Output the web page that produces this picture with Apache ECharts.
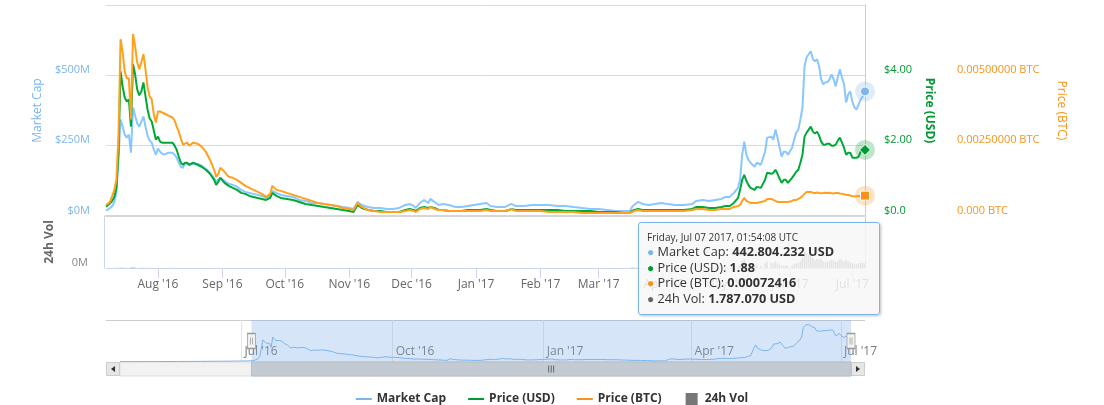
<!DOCTYPE html>
<html><head><meta charset="utf-8">
<script src="https://cdn.jsdelivr.net/npm/echarts@6/dist/echarts.min.js"></script>
<style>html,body{margin:0;padding:0;background:#fff}#c{width:1104px;height:405px}</style>
</head><body><div id="c"></div>
<script>
// ---------- DATA ----------
const dates = [
 '2016-07-07','2016-07-08','2016-07-09','2016-07-10','2016-07-11','2016-07-12','2016-07-13','2016-07-14','2016-07-15','2016-07-16','2016-07-17','2016-07-18','2016-07-19','2016-07-20','2016-07-21','2016-07-22','2016-07-23','2016-07-24','2016-07-25','2016-07-26','2016-07-27','2016-07-28','2016-07-29','2016-07-30','2016-07-31',
 '2016-08-01','2016-08-02','2016-08-03','2016-08-04','2016-08-05','2016-08-06','2016-08-07','2016-08-08','2016-08-09','2016-08-10','2016-08-11','2016-08-12','2016-08-13','2016-08-14','2016-08-15','2016-08-16','2016-08-18','2016-08-20','2016-08-22','2016-08-24','2016-08-26','2016-08-28','2016-08-29','2016-08-30','2016-08-31',
 '2016-09-02','2016-09-04','2016-09-06','2016-09-08','2016-09-10','2016-09-12','2016-09-14','2016-09-16','2016-09-18','2016-09-20','2016-09-22','2016-09-24','2016-09-25','2016-09-27','2016-09-29',
 '2016-10-02','2016-10-05','2016-10-08','2016-10-11','2016-10-14','2016-10-17','2016-10-20','2016-10-23','2016-10-26','2016-10-29',
 '2016-11-01','2016-11-03','2016-11-05','2016-11-07','2016-11-10','2016-11-13','2016-11-16','2016-11-19','2016-11-22','2016-11-25','2016-11-28','2016-11-30',
 '2016-12-02','2016-12-03','2016-12-05','2016-12-07','2016-12-09','2016-12-10','2016-12-12','2016-12-14','2016-12-16','2016-12-19','2016-12-22','2016-12-25','2016-12-28','2016-12-31',
 '2017-01-03','2017-01-06','2017-01-08','2017-01-11','2017-01-15','2017-01-17','2017-01-18','2017-01-20','2017-01-24','2017-01-28','2017-02-01','2017-02-05','2017-02-09','2017-02-13','2017-02-17','2017-02-21','2017-02-25',
 '2017-03-01','2017-03-05','2017-03-09','2017-03-13','2017-03-16','2017-03-17','2017-03-18','2017-03-20','2017-03-22','2017-03-25','2017-03-28','2017-03-31','2017-04-03','2017-04-07','2017-04-11','2017-04-15','2017-04-17','2017-04-20','2017-04-23','2017-04-26','2017-04-29',
 '2017-05-01','2017-05-03','2017-05-05','2017-05-07','2017-05-08','2017-05-09','2017-05-10','2017-05-11','2017-05-12','2017-05-13','2017-05-15','2017-05-16','2017-05-18','2017-05-20','2017-05-21','2017-05-23','2017-05-24','2017-05-25','2017-05-26','2017-05-27','2017-05-28','2017-05-29','2017-05-30','2017-05-31',
 '2017-06-02','2017-06-03','2017-06-04','2017-06-05','2017-06-06','2017-06-07','2017-06-08','2017-06-09','2017-06-10','2017-06-11','2017-06-12','2017-06-13','2017-06-14','2017-06-15','2017-06-16','2017-06-17','2017-06-18','2017-06-19','2017-06-20','2017-06-21','2017-06-22','2017-06-23','2017-06-24','2017-06-25','2017-06-26','2017-06-27','2017-06-28','2017-06-29','2017-06-30','2017-07-01','2017-07-02','2017-07-03','2017-07-04','2017-07-05','2017-07-06','2017-07-07T01:54:08'
];
// Market cap, millions of USD
const marketCap = [
 18.9,23.2,28.6,35.7,50.0,82.1,200.0,342.9,317.9,289.3,278.6,289.3,225.0,385.7,357.1,328.6,317.9,335.7,353.6,317.9,285.7,267.9,260.7,235.7,217.9,
 239.3,228.6,221.4,217.9,221.4,225.0,225.0,225.0,217.9,207.1,189.3,175.0,171.4,185.7,185.7,182.1,185.7,185.7,178.6,167.9,153.6,135.7,121.4,128.6,135.7,
 125.0,114.3,110.7,103.6,92.9,85.7,82.1,78.6,75.0,71.4,64.3,71.4,89.3,82.1,75.0,
 71.4,67.9,57.1,53.6,46.4,46.4,42.9,39.3,35.7,32.1,
 28.6,25.0,50.0,39.3,32.1,28.6,28.6,25.0,25.0,28.6,39.3,42.9,
 35.7,28.6,46.4,57.1,46.4,60.7,50.0,39.3,42.9,39.3,32.1,32.1,35.7,39.3,
 42.9,46.4,35.7,32.1,32.1,39.3,42.9,35.7,35.7,39.3,39.3,39.3,35.7,35.7,32.1,28.6,25.0,
 25.0,21.4,17.9,17.9,17.9,32.1,39.3,50.0,42.9,39.3,42.9,46.4,42.9,39.3,39.3,42.9,53.6,57.1,53.6,57.1,60.7,
 67.9,67.9,82.1,100.0,128.6,217.9,264.3,217.9,200.0,189.3,175.0,189.3,182.1,228.6,278.6,282.1,271.4,307.1,278.6,242.9,210.7,228.6,228.6,217.9,
 242.9,271.4,296.4,307.1,342.9,385.7,532.1,564.3,575.0,585.7,557.1,550.0,557.1,532.1,485.7,467.9,475.0,475.0,485.7,503.6,485.7,460.7,492.9,521.4,492.9,467.9,403.6,432.1,442.9,407.1,385.7,378.6,396.4,414.3,425.0,442.804232
];
// Price in USD
const priceUsd = [
 0.266,0.314,0.371,0.429,0.543,0.800,1.800,4.114,3.686,3.371,3.257,3.314,2.543,4.314,4.029,3.600,3.429,3.543,3.800,3.400,3.029,2.771,2.686,2.429,2.171,
 2.257,2.114,2.086,2.086,2.086,2.086,2.086,2.086,2.000,1.886,1.686,1.514,1.457,1.514,1.514,1.457,1.514,1.457,1.400,1.314,1.200,1.029,0.886,0.971,1.086,
 0.943,0.857,0.800,0.743,0.657,0.629,0.571,0.543,0.514,0.486,0.457,0.514,0.657,0.571,0.514,
 0.486,0.457,0.400,0.343,0.314,0.286,0.257,0.229,0.200,0.171,
 0.143,0.114,0.314,0.229,0.171,0.143,0.143,0.114,0.114,0.114,0.171,0.200,
 0.171,0.143,0.229,0.257,0.229,0.257,0.229,0.171,0.171,0.143,0.143,0.143,0.171,0.171,
 0.171,0.200,0.171,0.143,0.143,0.171,0.200,0.171,0.171,0.171,0.171,0.171,0.171,0.143,0.143,0.143,0.143,
 0.114,0.114,0.114,0.086,0.086,0.143,0.171,0.200,0.171,0.171,0.171,0.171,0.171,0.171,0.171,0.200,0.257,0.257,0.229,0.229,0.257,
 0.286,0.286,0.371,0.514,0.743,1.029,1.171,1.000,0.886,0.800,0.743,0.829,0.800,1.029,1.229,1.200,1.229,1.314,1.200,1.057,0.943,1.029,1.029,0.943,
 1.086,1.171,1.257,1.314,1.514,1.743,2.257,2.371,2.457,2.543,2.400,2.343,2.400,2.286,2.114,2.029,2.029,2.057,2.057,2.000,2.000,2.029,2.143,2.229,2.086,1.943,1.743,1.800,1.800,1.657,1.657,1.657,1.686,1.829,1.857,1.88
];
// Price in BTC
const priceBtc = [
 0.000393,0.000446,0.000518,0.000714,0.000929,0.001286,0.002821,0.006286,0.005821,0.005143,0.004893,0.004893,0.003429,0.006464,0.006036,0.005464,0.005214,0.005464,0.005750,0.005214,0.004571,0.004250,0.004143,0.003607,0.003321,
 0.003714,0.003714,0.003679,0.003643,0.003607,0.003571,0.003536,0.003500,0.003393,0.003179,0.003000,0.002750,0.002536,0.002571,0.002607,0.002500,0.002607,0.002571,0.002464,0.002286,0.002000,0.001643,0.001393,0.001500,0.001714,
 0.001571,0.001393,0.001357,0.001286,0.001179,0.001071,0.001000,0.000929,0.000857,0.000786,0.000679,0.000786,0.001071,0.000929,0.000893,
 0.000821,0.000750,0.000679,0.000607,0.000536,0.000464,0.000429,0.000393,0.000357,0.000286,
 0.000250,0.000214,0.000464,0.000321,0.000214,0.000179,0.000143,0.000143,0.000143,0.000143,0.000179,0.000214,
 0.000179,0.000143,0.000250,0.000286,0.000250,0.000321,0.000250,0.000214,0.000214,0.000179,0.000179,0.000179,0.000179,0.000179,
 0.000179,0.000214,0.000179,0.000179,0.000179,0.000214,0.000250,0.000179,0.000179,0.000179,0.000179,0.000143,0.000143,0.000143,0.000143,0.000107,0.000107,
 0.000107,0.000107,0.000107,0.000107,0.000107,0.000143,0.000179,0.000214,0.000179,0.000179,0.000179,0.000179,0.000179,0.000179,0.000179,0.000214,0.000250,0.000250,0.000214,0.000214,0.000250,
 0.000250,0.000250,0.000321,0.000357,0.000393,0.000536,0.000643,0.000536,0.000500,0.000464,0.000464,0.000464,0.000500,0.000536,0.000607,0.000607,0.000571,0.000536,0.000500,0.000500,0.000500,0.000500,0.000500,0.000500,
 0.000536,0.000571,0.000571,0.000607,0.000643,0.000714,0.000786,0.000857,0.000857,0.000857,0.000829,0.000814,0.000836,0.000821,0.000807,0.000814,0.000829,0.000821,0.000829,0.000807,0.000800,0.000814,0.000821,0.000800,0.000786,0.000771,0.000750,0.000743,0.000729,0.000700,0.000693,0.000700,0.000707,0.000714,0.000721,0.00072416
];
// 24h volume, millions of USD
const volume = [
 0.01,0.01,0.01,0.02,0.02,0.03,0.06,0.08,0.05,0.04,0.03,0.03,0.05,0.15,0.06,0.04,0.03,0.03,0.04,0.03,0.02,0.02,0.02,0.02,0.02,
 0.02,0.02,0.02,0.02,0.02,0.02,0.02,0.02,0.02,0.02,0.02,0.02,0.02,0.02,0.02,0.02,0.02,0.02,0.02,0.02,0.02,0.02,0.03,0.02,0.02,
 0.02,0.02,0.02,0.02,0.02,0.02,0.02,0.02,0.02,0.02,0.02,0.02,0.03,0.02,0.02,
 0.02,0.02,0.02,0.02,0.02,0.02,0.02,0.02,0.02,0.02,
 0.02,0.02,0.03,0.02,0.02,0.02,0.02,0.02,0.02,0.02,0.02,0.02,
 0.02,0.02,0.02,0.03,0.02,0.03,0.02,0.02,0.02,0.02,0.02,0.02,0.02,0.02,
 0.02,0.02,0.02,0.02,0.02,0.02,0.02,0.02,0.02,0.02,0.02,0.02,0.02,0.02,0.02,0.02,0.02,
 0.02,0.02,0.02,0.02,0.02,0.05,0.06,0.06,0.04,0.03,0.03,0.03,0.03,0.03,0.03,0.04,0.08,0.08,0.06,0.06,0.08,
 0.2,0.2,0.4,0.8,1.5,3.0,3.5,2.0,1.2,1.0,0.8,1.0,0.9,1.8,2.5,2.0,1.8,2.5,1.8,1.2,1.0,1.0,0.9,0.8,
 1.0,1.5,1.8,2.0,2.8,4.0,6.5,5.8,5.0,4.5,3.8,3.0,3.5,3.2,3.5,2.6,2.2,2.5,2.8,3.2,2.8,2.4,2.6,3.5,3.0,2.6,3.2,2.6,2.2,1.9,1.7,1.6,1.8,2.0,1.9,1.78707
];
// earlier history shown only in the navigator (market cap, millions USD)
const navDates = ['2016-04-18','2016-04-25','2016-05-02','2016-05-09','2016-05-16','2016-05-23','2016-05-30','2016-06-06','2016-06-13','2016-06-20','2016-06-27','2016-07-01','2016-07-04'];
const navCap = [5.2,5.8,6.1,6.6,7.4,8.0,8.9,9.8,11.2,12.5,14.1,15.3,16.8];

const MON = ['Jan','Feb','Mar','Apr','May','Jun','Jul','Aug','Sep','Oct','Nov','Dec'];
const DAYS = ['Sunday','Monday','Tuesday','Wednesday','Thursday','Friday','Saturday'];

// ---------- BUILD ----------
const toTs = s => Date.parse(s.length === 10 ? s + 'T00:00:00Z' : s + 'Z');
const ts = dates.map(toTs);
[marketCap, priceUsd, priceBtc, volume].forEach((a, i) => { if (a.length !== ts.length) console.warn('length mismatch', i, a.length, ts.length); });
const zip = (t, v) => t.map((x, i) => [x, v[i]]);
const last = ts.length - 1;
const t0 = ts[0], t1 = ts[last];
const navTs = navDates.map(toTs).concat(ts);
const navVals = navCap.concat(marketCap);
const navMax = 650;

function monthTicks(from, to, step) {
  const out = []; const d = new Date(from);
  let y = d.getUTCFullYear(), m = d.getUTCMonth();
  for (;;) {
    const t = Date.UTC(y, m, 1);
    if (t > to) break;
    if (t >= from && m % step === 0) out.push(t);
    m++; if (m > 11) { m = 0; y++; }
  }
  return out;
}
const mainTicks = monthTicks(t0, t1, 1);
const navTicks = monthTicks(navTs[0], t1, 3);
const monLabel = v => { const d = new Date(v); return MON[d.getUTCMonth()] + " '" + String(d.getUTCFullYear()).slice(2); };
const pad = n => String(n).padStart(2, '0');
const thousands = n => String(Math.round(n)).replace(/\B(?=(\d{3})+(?!\d))/g, '.');

const C_MC = '#7cb5ec', C_USD = '#009933', C_BTC = '#f7931a', C_VOL = '#777777';
const FONT = 'Open Sans';

function halo(val, color, haloColor, symbol, size) {
  return {
    silent: true, label: { show: false }, animation: false,
    data: [
      { coord: [t1, val], symbol: 'circle', symbolSize: 20, itemStyle: { color: haloColor } },
      { coord: [t1, val], symbol: symbol, symbolSize: size, itemStyle: { color: color, borderColor: '#fff', borderWidth: 1 } }
    ]
  };
}

function tooltipHtml() {
  const d = new Date(t1);
  const head = `${DAYS[d.getUTCDay()]}, ${MON[d.getUTCMonth()]} ${pad(d.getUTCDate())} ${d.getUTCFullYear()}, ${pad(d.getUTCHours())}:${pad(d.getUTCMinutes())}:${pad(d.getUTCSeconds())} UTC`;
  const dot = c => `<span style="color:${c};font-size:12px">\u25CF</span>`;
  const row = (c, name, val) => `<div style="font-size:12.7px;line-height:15.5px;color:#333;white-space:nowrap">${dot(c)} ${name}: <b>${val}</b></div>`;
  return `<div style="font-size:10px;line-height:13px;color:#333;white-space:nowrap">${head}</div>` +
    row(C_MC, 'Market Cap', thousands(marketCap[last] * 1e6) + ' USD') +
    row(C_USD, 'Price (USD)', String(priceUsd[last])) +
    row(C_BTC, 'Price (BTC)', priceBtc[last].toFixed(8)) +
    row('#666666', '24h Vol', thousands(volume[last] * 1e6) + ' USD');
}

const axisLabelBase = { fontFamily: FONT, fontSize: 11, verticalAlign: 'bottom' };
const LINE_ICON = 'path://M0,0h16v2h-16z';
const SQUARE_ICON = 'path://M0,0h0.01v0.01h-0.01z M16,12h-0.01v-0.01h0.01z M2,0h12v12h-12z';

const option = {
  animation: false,
  textStyle: { fontFamily: FONT },
  grid: [
    { left: 106, right: 239, top: 5, height: 211 },
    { left: 106, right: 239, top: 216, height: 52 },
    { left: 120, right: 253, top: 320, height: 42 },
    { left: 120, right: 253, top: 362, height: 14, show: true, backgroundColor: '#f2f2f2', borderColor: '#dddddd', borderWidth: 1 }
  ],
  xAxis: [
    { type: 'value', gridIndex: 0, min: t0, max: t1, axisLine: { show: true, lineStyle: { color: '#d6d6d6', width: 2 } }, axisTick: { show: false }, axisLabel: { show: false }, splitLine: { show: false } },
    { type: 'value', gridIndex: 1, min: t0, max: t1,
      axisLine: { show: true, lineStyle: { color: '#ccd6eb', width: 1 } },
      axisTick: { show: true, length: 10, lineStyle: { color: '#ccd6eb' }, customValues: mainTicks },
      axisLabel: { show: true, customValues: mainTicks, formatter: monLabel, color: '#666', fontFamily: FONT, fontSize: 12, margin: 11 },
      splitLine: { show: false } },
    { type: 'value', gridIndex: 2, min: navTs[0], max: t1,
      axisLine: { show: false }, axisTick: { show: false, customValues: navTicks },
      axisLabel: { show: true, inside: true, customValues: navTicks, formatter: monLabel, color: '#777', fontFamily: FONT, fontSize: 12, align: 'left', padding: [0, 0, 0, 3], margin: 4 },
      splitLine: { show: true, lineStyle: { color: '#e6e6e6' } } },
    { type: 'value', gridIndex: 3, min: navTs[0], max: t1, show: false, splitLine: { show: false } }
  ],
  yAxis: [
    { type: 'value', gridIndex: 0, position: 'left', min: 0, max: 750, interval: 250,
      name: 'Market Cap', nameLocation: 'middle', nameRotate: 90, nameGap: 60,
      nameTextStyle: { color: C_MC, fontSize: 12, fontFamily: FONT },
      axisLine: { show: false }, axisTick: { show: false },
      axisLabel: Object.assign({ color: C_MC, margin: 16, showMaxLabel: false, formatter: v => '$' + v + 'M' }, axisLabelBase),
      splitLine: { show: true, lineStyle: { color: '#dadada' } } },
    { type: 'value', gridIndex: 0, position: 'right', min: 0, max: 6, interval: 2,
      name: 'Price (USD)', nameLocation: 'middle', nameRotate: -90, nameGap: 54,
      nameTextStyle: { color: C_USD, fontSize: 12, fontWeight: 'bold', fontFamily: FONT },
      axisLine: { show: true, lineStyle: { color: '#cccccc' } }, axisTick: { show: false },
      axisLabel: Object.assign({ color: C_USD, margin: 19, showMaxLabel: false, formatter: v => v === 0 ? '$0.0' : '$' + v.toFixed(2) }, axisLabelBase),
      splitLine: { show: false } },
    { type: 'value', gridIndex: 0, position: 'right', offset: 73, min: 0, max: 0.0075, interval: 0.0025,
      name: 'Price (BTC)', nameLocation: 'middle', nameRotate: -90, nameGap: 117,
      nameTextStyle: { color: C_BTC, fontSize: 12, fontFamily: FONT },
      axisLine: { show: false }, axisTick: { show: false },
      axisLabel: Object.assign({ color: C_BTC, margin: 19, showMaxLabel: false, formatter: v => v === 0 ? '0.000 BTC' : v.toFixed(8) + ' BTC' }, axisLabelBase),
      splitLine: { show: false } },
    { type: 'value', gridIndex: 1, position: 'left', offset: 2, min: 0, max: 20, interval: 20,
      name: '24h Vol', nameLocation: 'middle', nameRotate: 90, nameGap: 48,
      nameTextStyle: { color: '#666', fontSize: 12, fontWeight: 'bold', fontFamily: FONT },
      axisLine: { show: true, lineStyle: { color: '#ccd6eb' } }, axisTick: { show: false },
      axisLabel: Object.assign({ color: '#888', margin: 16, showMaxLabel: false, formatter: v => v === 0 ? '0M' : '' }, axisLabelBase),
      splitLine: { show: false } },
    { type: 'value', gridIndex: 1, position: 'right', min: 0, max: 20,
      axisLine: { show: true, lineStyle: { color: '#cccccc' } }, axisTick: { show: false }, axisLabel: { show: false }, splitLine: { show: false } },
    { type: 'value', gridIndex: 2, min: 0, max: navMax, show: false, splitLine: { show: false } },
    { type: 'value', gridIndex: 3, min: 0, max: 1, show: false, splitLine: { show: false } }
  ],
  legend: {
    left: 'center', top: 388, itemWidth: 16, itemHeight: 12, itemGap: 22,
    textStyle: { fontFamily: FONT, fontWeight: 'bold', fontSize: 12, color: '#333' },
    data: [ { name: 'Market Cap', icon: LINE_ICON }, { name: 'Price (USD)', icon: LINE_ICON }, { name: 'Price (BTC)', icon: LINE_ICON }, { name: '24h Vol', icon: SQUARE_ICON } ]
  },
  tooltip: {
    trigger: 'axis', triggerOn: 'none', alwaysShowContent: true, transitionDuration: 0,
    axisPointer: { type: 'none' },
    position: () => [638, 222],
    backgroundColor: 'rgba(247,247,247,0.85)', borderColor: C_MC, borderWidth: 1, padding: [8, 8],
    textStyle: { fontFamily: FONT, color: '#333' },
    extraCssText: 'width:224px;border-radius:3px;box-shadow:1px 1px 3px rgba(0,0,0,0.25);',
    formatter: () => tooltipHtml()
  },
  series: [
    { name: 'Market Cap', type: 'line', xAxisIndex: 0, yAxisIndex: 0, data: zip(ts, marketCap), symbol: 'none',
      lineStyle: { color: C_MC, width: 2 }, itemStyle: { color: C_MC },
      markPoint: halo(marketCap[last], C_MC, 'rgba(124,181,236,0.25)', 'circle', 9) },
    { name: 'Price (USD)', type: 'line', xAxisIndex: 0, yAxisIndex: 1, data: zip(ts, priceUsd), symbol: 'none',
      lineStyle: { color: C_USD, width: 2 }, itemStyle: { color: C_USD },
      markPoint: halo(priceUsd[last], C_USD, 'rgba(0,153,51,0.25)', 'diamond', 11) },
    { name: 'Price (BTC)', type: 'line', xAxisIndex: 0, yAxisIndex: 2, data: zip(ts, priceBtc), symbol: 'none',
      lineStyle: { color: C_BTC, width: 2 }, itemStyle: { color: C_BTC },
      markPoint: halo(priceBtc[last], C_BTC, 'rgba(247,147,26,0.25)', 'rect', 9) },
    { name: '24h Vol', type: 'bar', xAxisIndex: 1, yAxisIndex: 3, data: zip(ts, volume), barWidth: 1.5,
      itemStyle: { color: C_VOL } },
    { name: 'navigator', type: 'line', xAxisIndex: 2, yAxisIndex: 5, data: zip(navTs, navVals), symbol: 'none',
      lineStyle: { color: C_MC, width: 1 }, areaStyle: { color: 'rgba(124,181,236,0.06)' }, silent: true,
      markArea: { silent: true, itemStyle: { color: 'rgba(124,170,236,0.30)' }, data: [[{ xAxis: t0 }, { xAxis: t1 }]] },
      markPoint: { silent: true, label: { show: false },
        symbol: 'path://M0,0H8V15H0Z M3,4V11 M5,4V11', symbolSize: [8, 15],
        itemStyle: { color: '#f2f2f2', borderColor: '#999999', borderWidth: 1 },
        data: [ { coord: [t0, navMax / 2] }, { coord: [t1, navMax / 2] } ] } },
    { name: 'scrollbar', type: 'line', xAxisIndex: 3, yAxisIndex: 6, data: [[navTs[0], 0.5], [t1, 0.5]], symbol: 'none',
      lineStyle: { opacity: 0 }, silent: true,
      markArea: { silent: true, itemStyle: { color: '#c4cad1', borderColor: '#b8bec6', borderWidth: 1 }, data: [[{ xAxis: t0 }, { xAxis: t1 }]] },
      markPoint: { silent: true, label: { show: false },
        symbol: 'path://M0,0V7 M2,0V7 M4,0V7', symbolSize: [5, 7],
        itemStyle: { color: 'rgba(0,0,0,0)', borderColor: '#555', borderWidth: 1 },
        data: [ { coord: [(t0 + t1) / 2, 0.5] } ] } }
  ],
  graphic: [
    { type: 'line', shape: { x1: 106, y1: 320.5, x2: 865, y2: 320.5 }, style: { stroke: '#cccccc', lineWidth: 1 }, silent: true },
    { type: 'rect', shape: { x: 106.5, y: 362.5, width: 13, height: 13 }, style: { fill: '#e6e6e6', stroke: '#cccccc' }, silent: true },
    { type: 'polygon', shape: { points: [[111, 369], [115, 366], [115, 372]] }, style: { fill: '#333' }, silent: true },
    { type: 'rect', shape: { x: 851.5, y: 362.5, width: 13, height: 13 }, style: { fill: '#e6e6e6', stroke: '#cccccc' }, silent: true },
    { type: 'polygon', shape: { points: [[860, 369], [856, 366], [856, 372]] }, style: { fill: '#333' }, silent: true }
  ]
};

const chart = echarts.init(document.getElementById('c'), null, { renderer: 'canvas' });
chart.setOption(option);
const showTip = () => chart.dispatchAction({ type: 'showTip', seriesIndex: 0, dataIndex: last });
showTip();
setTimeout(showTip, 50);
</script>
</body></html>
